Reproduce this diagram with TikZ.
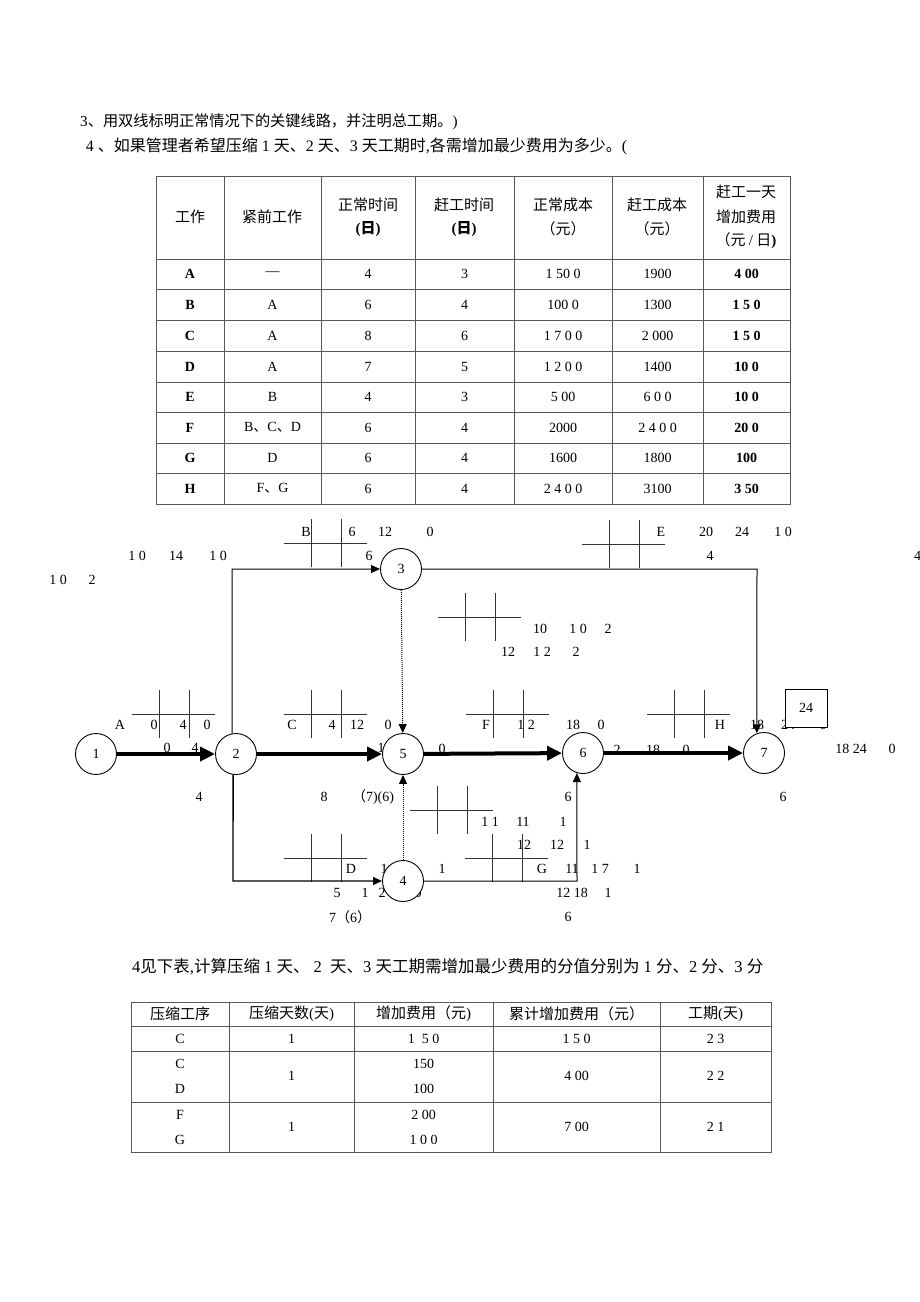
\documentclass[tikz,border=0pt]{standalone}
\usepackage{fontspec}
\setmainfont{Liberation Serif}
\newfontfamily\cjk{Noto Sans CJK SC}
\usetikzlibrary{arrows.meta}
\tikzset{
  xgrid/.pic={\draw[gridline] (0,0) -- (83,0) (27,-24) -- (27,24) (57,-24) -- (57,24);},
}
\begin{document}
\begin{tikzpicture}[x=1pt,y=-1pt,
  lbl/.style={inner sep=0pt, font=\fontsize{14}{16}\selectfont},
  hd/.style={inner sep=0pt, font=\fontsize{15}{17}\selectfont\cjk},
  txt/.style={inner sep=0pt, anchor=west, font=\fontsize{16}{18}\selectfont},
  tbl/.style={draw=black!65, line width=1pt},
  gridline/.style={draw=black!80, line width=0.9pt},
  ev/.style={circle, draw, line width=0.9pt, minimum size=41pt, inner sep=0pt, fill=white, font=\fontsize{14}{16}\selectfont},
  crit/.style={line width=4pt, -{Triangle[length=15pt,width=14pt]}},
  arr/.style={line width=1pt, -{Triangle[length=9pt,width=8pt]}},
  dum/.style={line width=1pt, densely dotted, -{Triangle[length=9pt,width=8pt]}},
]
\fill[white] (0,0) rectangle (920,1302);
\useasboundingbox (0,0) rectangle (920,1302);

% ---- top text ----
\node[txt, font=\fontsize{15.2}{18}\selectfont] (q3) at (80,122) {3{\cjk 、用双线标明正常情况下的关键线路，并注明总工期。})};
\node[txt] (q4) at (83,146) {\,4 {\cjk 、如果管理者希望压缩} 1 {\cjk 天、}2 {\cjk 天、}3 {\cjk 天工期时},{\cjk 各需增加最少费用为多少。}(};

% ---- table 1 ----
\draw[tbl] (156,176) rectangle (790,504);
\foreach \x in {224,321,415,514,612,703} \draw[tbl] (\x,176) -- (\x,504);
\foreach \y in {259,289,320,351,382,412,443,473} \draw[tbl] (156,\y) -- (790,\y);

\node[hd] (h1) at (190,217) {工作};
\node[hd] (h2) at (272,217) {紧前工作};
\node[hd] (h3) at (368,205) {正常时间};
\node[hd] (h3b) at (368,229) {\rmfamily\bfseries({\cjk 日})};
\node[hd] (h4) at (464,205) {赶工时间};
\node[hd] (h4b) at (464,229) {\rmfamily\bfseries({\cjk 日})};
\node[hd] (h5) at (563,205) {正常成本};
\node[hd] (h5b) at (563,229) {（元）};
\node[hd] (h6) at (657,205) {赶工成本};
\node[hd] (h6b) at (657,229) {（元）};
\node[hd] (h7) at (746,192) {赶工一天};
\node[hd] (h7b) at (746,217) {增加费用};
\node[hd] (h7c) at (746,241) {（元 {\rmfamily/} 日{\rmfamily\bfseries)}};

\foreach \yy/\a/\b/\c/\d/\e/\f/\g [count=\i] in {
  274/A/—/4/3/1 50 0/1900/4 00,
  304.5/B/A/6/4/100 0/1300/1 5 0,
  335.5/C/A/8/6/1 7 0 0/2 000/1 5 0,
  366.5/D/A/7/5/1 2 0 0/1400/10 0,
  397/E/B/4/3/5 00/6 0 0/10 0,
  427.5/F/{B{\cjk 、}C{\cjk 、}D}/6/4/2000/2 4 0 0/20 0,
  458/G/D/6/4/1600/1800/100,
  488.5/H/{F{\cjk 、}G}/6/4/2 4 0 0/3100/3 50}
{
  \node[lbl,font=\fontsize{14}{16}\selectfont\bfseries] (ra\i) at (190,\yy) {\a};
  \node[lbl] (rb\i) at (272.5,\yy) {\b};
  \node[lbl] (rc\i) at (368,\yy) {\c};
  \node[lbl] (rd\i) at (464.5,\yy) {\d};
  \node[lbl] (re\i) at (563,\yy) {\e};
  \node[lbl] (rf\i) at (657.5,\yy) {\f};
  \node[lbl,font=\fontsize{14}{16}\selectfont\bfseries] (rg\i) at (746.5,\yy) {\g};
}

% ---- network labels ----
\foreach \x/\y/\t [count=\i] in {
  306/532/B, 352/532/6, 385/532/12, 430/532/0,
  137/556/1 0, 176/556/14, 218/556/1 0, 369/556/6,
  58/580/1 0, 92/580/2,
  661/532/E, 706/532/20, 742/532/24, 783/532/1 0, 710/556/4,
  540/629/10, 578/629/1 0, 608/629/2,
  508/652/12, 542/652/1 2, 576/652/2,
  120/725/A, 154/725/0, 183/725/4, 207/725/0,
  167/748/0, 195/748/4,
  292/725/C, 332/725/4, 357/725/12, 388/725/0,
  381/748/1, 442/749/0,
  486/725/F, 526/725/1 2, 573/725/18, 601/725/0,
  617/750/2, 653/750/18, 686/750/0,
  720/725/H, 757/725/18, 788/725/24, 823/725/0,
  851/749/18 24, 892/749/0,
  199/797/4, 324/797/8, 373/797/{{\cjk （}7)(6)},
  568/797/6, 783/797/6,
  490/822/1 1, 523/822/11, 563/822/1,
  524/845/12, 557/845/12, 587/845/1,
  351/869/D, 384/869/1, 442/869/1,
  542/869/G, 572/869/11, 600/869/1 7, 637/869/1,
  337/893/5, 365/893/1, 382/893/2, 418/893/0,
  572/893/12 18, 608/893/1,
  350/917/{7{\cjk （}6{\cjk ）}}, 568/917/6}
{ \node[lbl] (t\i) at (\x,\y) {\t}; }
\node[lbl, anchor=west] (tedge) at (914,556) {4};

% ---- grids ----
\pic at (284,543) {xgrid};
\pic at (582,544) {xgrid};
\pic at (438,617) {xgrid};
\pic at (132,714) {xgrid};
\pic at (284,714) {xgrid};
\pic at (466,714) {xgrid};
\pic at (647,714) {xgrid};
\pic at (410,810) {xgrid};
\pic at (284,858) {xgrid};
\pic at (465,858) {xgrid};

% ---- box 24 ----
\node[draw, line width=1pt, fill=white, minimum width=42pt, minimum height=38pt, inner sep=0pt, font=\fontsize{14}{16}\selectfont] (bx) at (806,708) {24};

% ---- events ----
\node[ev] (n1) at (96,754) {1};
\node[ev] (n2) at (236,754) {2};
\node[ev] (n3) at (401,569) {3};
\node[ev] (n5) at (403,754) {5};
\node[ev] (n4) at (403,881) {4};
\node[ev] (n6) at (583,753) {6};
\node[ev] (n7) at (764,753) {7};

\coordinate (c23) at (232,569);
\coordinate (c24) at (233,881);
\coordinate (c37) at (757,569);
\coordinate (c46) at (577,881);

% ---- activities ----
\draw[crit] (n1) -- (n2);
\draw[crit] (n2) -- (n5);
\draw[crit] (n5) -- (n6);
\draw[crit] (n6) -- (n7);
\draw[arr] (n2.101) -- (c23) -- (n3);
\draw[arr, line width=1.4pt] (n2.262) -- (c24) -- (n4);
\draw[arr] (n3) -- (c37) -- (n7.110);
\draw[arr] (n4) -- (c46) -- (n6.253);
\draw[dum] (n3) -- (n5);
\draw[dum] (n4) -- (n5);

% ---- bottom text ----
\node[txt, font=\fontsize{16.5}{18}\selectfont] (q5) at (132,967) {4{\cjk 见下表},{\cjk 计算压缩} 1 {\cjk 天、} 2 \ {\cjk 天、}3 {\cjk 天工期需增加最少费用的分值分别为} 1 {\cjk 分、}2 {\cjk 分、}3 {\cjk 分}};

% ---- table 2 ----
\draw[tbl] (131,1002) rectangle (771,1152);
\foreach \x in {229,354,493,660} \draw[tbl] (\x,1002) -- (\x,1152);
\foreach \y in {1026,1051,1102} \draw[tbl] (131,\y) -- (771,\y);

\node[hd] (s1) at (180,1014) {压缩工序};
\node[hd] (s2) at (291.5,1014) {压缩天数{\rmfamily(}天{\rmfamily)}};
\node[hd] (s3) at (423.5,1014) {增加费用（元{\rmfamily)}};
\node[hd] (s4) at (576.5,1014) {累计增加费用（元）};
\node[hd] (s5) at (715.5,1014) {工期{\rmfamily(}天{\rmfamily)}};
\foreach \x/\y/\t [count=\i] in {
  180/1039/C, 291.5/1039/1, 423.5/1039/1 \ 5 0, 576.5/1039/1 5 0, 715.5/1039/2 3,
  180/1064/C, 180/1089/D, 291.5/1076/1, 423.5/1064/150, 423.5/1089/100, 576.5/1076/4 00, 715.5/1076/2 2,
  180/1115/F, 180/1140/G, 291.5/1127/1, 423.5/1115/2 00, 423.5/1140/1 0 0, 576.5/1127/7 00, 715.5/1127/2 1}
{ \node[lbl] (u\i) at (\x,\y) {\t}; }
\end{tikzpicture}
\end{document}
